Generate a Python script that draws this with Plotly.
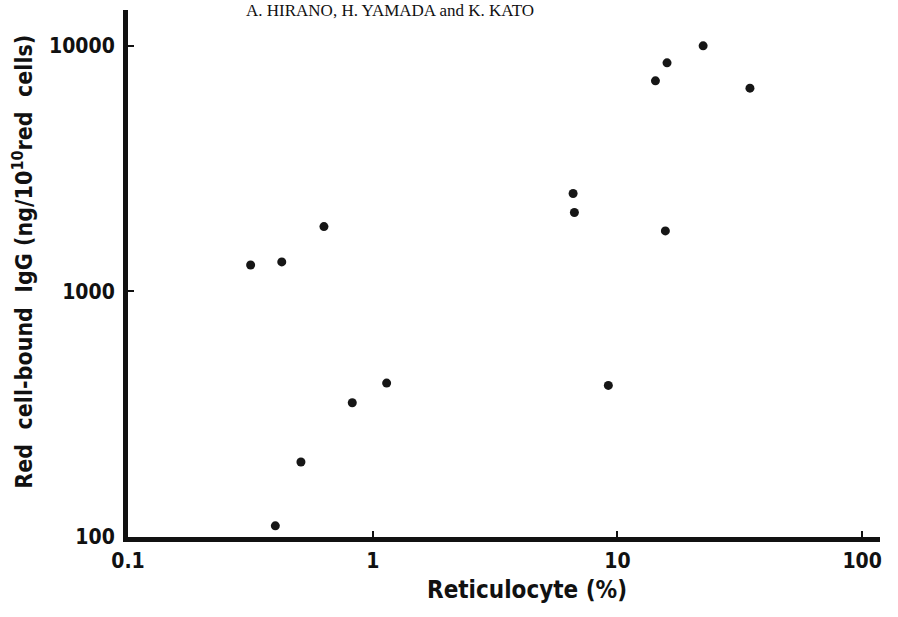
import plotly.graph_objects as go

# Reticulocyte count (%) and red cell-bound IgG (ng/10^10 red cells)
reticulocyte = [0.317, 0.425, 0.632, 0.40, 0.509, 0.825, 1.14,
                6.59, 6.67, 9.18, 15.7, 14.3, 15.95, 22.4, 34.8]
bound_igg = [1280, 1317, 1834, 111, 202, 352, 423,
             2500, 2092, 414, 1761, 7188, 8511, 9980, 6713]

x_ticks = [0.1, 1, 10, 100]
x_tick_text = ["0.1", "1", "10", "100"]
y_ticks = [100, 1000, 10000]
y_tick_text = ["100", "1000", "10000"]

sans = "DejaVu Sans Condensed, Arial Narrow, sans-serif"
tick_font = dict(family=sans, size=21, color="#111111", weight="bold")
label_font = dict(family=sans, size=24, color="#111111")

fig = go.Figure()
fig.add_trace(go.Scatter(
    x=reticulocyte, y=bound_igg, mode="markers",
    marker=dict(size=9, color="#161616"),
    showlegend=False, hoverinfo="x+y",
))

fig.update_layout(
    width=898, height=617,
    margin=dict(l=128, r=18, t=10, b=80),
    paper_bgcolor="white", plot_bgcolor="white",
    xaxis=dict(
        type="log", range=[-1.0, 2.073],
        tickvals=x_ticks, ticktext=x_tick_text,
        ticks="inside", ticklen=6, tickwidth=2, tickcolor="#111111",
        showline=True, linewidth=5, linecolor="#111111",
        showgrid=False, zeroline=False,
        tickfont=tick_font, ticklabelstandoff=1,
    ),
    yaxis=dict(
        type="log", range=[2.0, 4.145],
        tickvals=y_ticks, ticktext=y_tick_text,
        ticks="inside", ticklen=6, tickwidth=2, tickcolor="#111111",
        showline=True, linewidth=5, linecolor="#111111",
        showgrid=False, zeroline=False,
        tickfont=tick_font, ticklabelstandoff=4,
    ),
    annotations=[
        dict(text="A. HIRANO, H. YAMADA and K. KATO",
             xref="paper", yref="paper", x=0.348, y=1.0, yanchor="middle",
             showarrow=False,
             font=dict(family="Liberation Serif, Times New Roman, serif", size=17, color="#111111")),
        dict(text="<b>Reticulocyte (%)</b>",
             xref="paper", yref="paper", x=0.531, y=-0.1, yanchor="middle",
             showarrow=False, font=label_font),
        dict(text="<b>Red  cell-bound  IgG (ng/10<sup>10</sup>red  cells)</b>",
             xref="paper", yref="paper", x=-0.14, y=0.522, xanchor="center", yanchor="middle",
             textangle=-90, showarrow=False, font=dict(family=sans, size=23, color="#111111")),
    ],
)

fig.write_html("out.html")
